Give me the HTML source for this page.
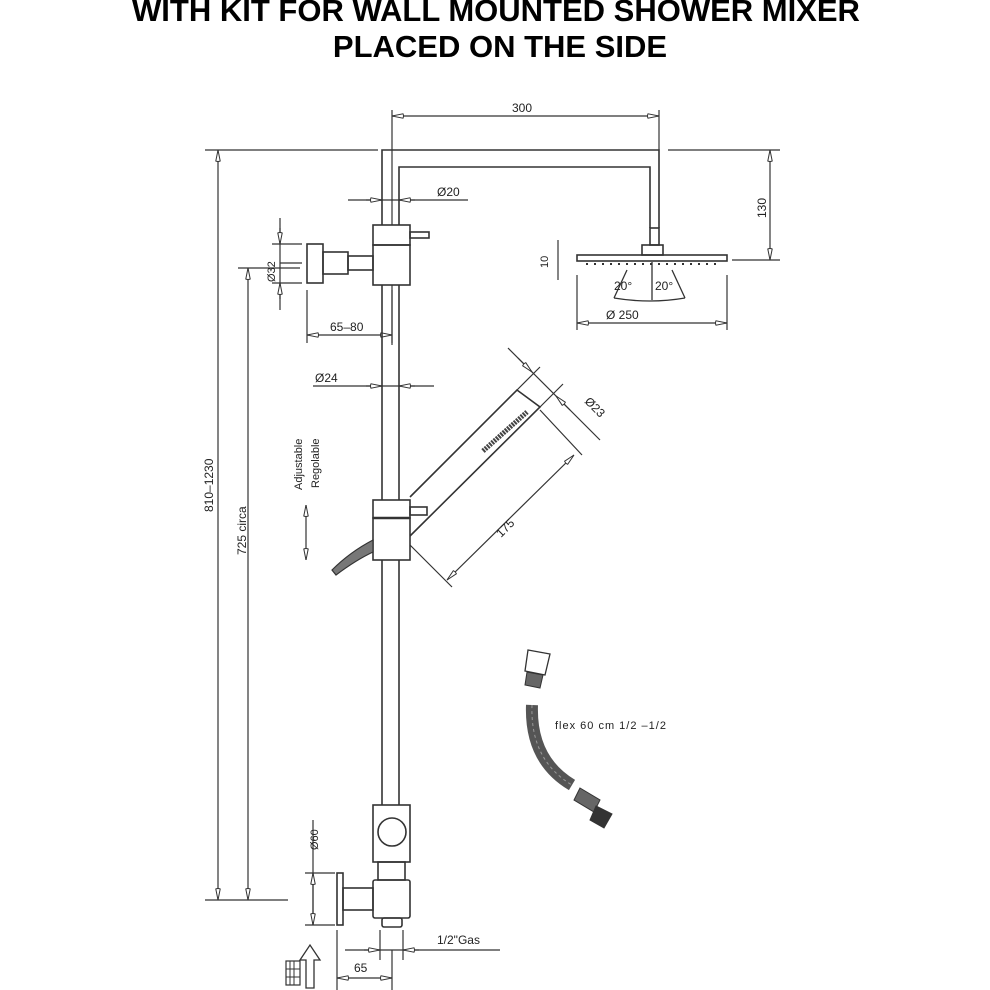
<!DOCTYPE html>
<html><head><meta charset="utf-8"><style>
html,body{margin:0;padding:0;background:#fff}
svg{display:block}
text{font-family:"Liberation Sans",sans-serif;fill:#222}
</style></head><body>
<svg width="990" height="990" viewBox="0 0 990 990" xmlns="http://www.w3.org/2000/svg">
<defs>
<marker id="a" viewBox="0 0 12 6" refX="12" refY="3" markerWidth="12" markerHeight="6" orient="auto-start-reverse" markerUnits="userSpaceOnUse">
<path d="M12,3 L1,0.8 Q0,3 1,5.2 Z" fill="#fff" stroke="#333" stroke-width="1"/>
</marker>
</defs>
<text x="496" y="21" font-size="31" font-weight="bold" text-anchor="middle" style="fill:#000">WITH KIT FOR WALL MOUNTED SHOWER MIXER</text>
<text x="500" y="57" font-size="31" font-weight="bold" text-anchor="middle" style="fill:#000">PLACED ON THE SIDE</text>

<g stroke="#333" stroke-width="1.6" fill="none">
<path d="M382,225 V150 H659 V228"/>
<path d="M399,225 V167 H650 V228"/>
<line x1="392" y1="110" x2="392" y2="225" stroke-width="1.2"/>
<rect x="650" y="228" width="9" height="17"/>
<rect x="642" y="245" width="21" height="10"/>
<rect x="577" y="255" width="150" height="6"/>
<path d="M586,264 H720" stroke-dasharray="2 6" stroke-width="2"/>
<path d="M627,270 L614,298 M672,270 L685,298 M652,262 V300 M614,298 Q650,304 685,298" stroke-width="1.3"/>
<line x1="392" y1="116" x2="659" y2="116" stroke-width="1.2" marker-start="url(#a)" marker-end="url(#a)"/>
<line x1="659" y1="110" x2="659" y2="150" stroke-width="1.2"/>
<line x1="668" y1="150" x2="780" y2="150" stroke-width="1.2"/>
<line x1="732" y1="260" x2="780" y2="260" stroke-width="1.2"/>
<line x1="770" y1="150" x2="770" y2="260" stroke-width="1.2" marker-start="url(#a)" marker-end="url(#a)"/>
<line x1="558" y1="240" x2="558" y2="280" stroke-width="1.2"/>
<line x1="577" y1="275" x2="577" y2="330" stroke-width="1.2"/>
<line x1="727" y1="275" x2="727" y2="330" stroke-width="1.2"/>
<line x1="577" y1="323" x2="727" y2="323" stroke-width="1.2" marker-start="url(#a)" marker-end="url(#a)"/>

<rect x="373" y="225" width="37" height="20"/>
<rect x="373" y="245" width="37" height="40"/>
<rect x="410" y="232" width="19" height="6"/>
<rect x="307" y="244" width="16" height="39"/>
<rect x="323" y="252" width="25" height="22"/>
<rect x="348" y="256" width="25" height="14"/>
<line x1="348" y1="200" x2="468" y2="200" stroke-width="1.2"/>
<line x1="366" y1="200" x2="382" y2="200" stroke-width="1.2" marker-end="url(#a)"/>
<line x1="415" y1="200" x2="399" y2="200" stroke-width="1.2" marker-end="url(#a)"/>
<line x1="272" y1="244" x2="302" y2="244" stroke-width="1.2"/>
<line x1="272" y1="283" x2="302" y2="283" stroke-width="1.2"/>
<line x1="280" y1="263" x2="302" y2="263" stroke-width="1.2"/>
<line x1="280" y1="218" x2="280" y2="310" stroke-width="1.2"/>
<line x1="280" y1="228" x2="280" y2="244" stroke-width="1.2" marker-end="url(#a)"/>
<line x1="280" y1="299" x2="280" y2="283" stroke-width="1.2" marker-end="url(#a)"/>
<line x1="307" y1="290" x2="307" y2="343" stroke-width="1.2"/>
<line x1="392" y1="290" x2="392" y2="343" stroke-width="1.2"/>
<line x1="307" y1="335" x2="392" y2="335" stroke-width="1.2" marker-start="url(#a)" marker-end="url(#a)"/>

<line x1="382" y1="285" x2="382" y2="500"/>
<line x1="399" y1="285" x2="399" y2="500"/>
<line x1="392" y1="285" x2="392" y2="345" stroke-width="1.2"/>
<line x1="382" y1="560" x2="382" y2="805"/>
<line x1="399" y1="560" x2="399" y2="805"/>
<line x1="313" y1="386" x2="434" y2="386" stroke-width="1.2"/>
<line x1="366" y1="386" x2="382" y2="386" stroke-width="1.2" marker-end="url(#a)"/>
<line x1="415" y1="386" x2="399" y2="386" stroke-width="1.2" marker-end="url(#a)"/>

<rect x="373" y="500" width="37" height="18"/>
<rect x="373" y="518" width="37" height="42"/>
<line x1="373" y1="518" x2="410" y2="518" stroke-width="2.5"/>
<rect x="410" y="507" width="17" height="8"/>
<path d="M410,497 L517,390 L540,407 L410,536"/>
<path d="M483,451 L527,412" stroke-width="5" stroke="#444" stroke-dasharray="2 1"/>
<path d="M410,545 L452,587 M540,410 L582,455" stroke-width="1.2"/>
<line x1="447" y1="580" x2="574" y2="455" stroke-width="1.2" marker-start="url(#a)" marker-end="url(#a)"/>
<path d="M517,390 L540,367 M540,407 L563,384" stroke-width="1.2"/>
<line x1="508" y1="348" x2="600" y2="440" stroke-width="1.2"/>
<line x1="518" y1="358" x2="532" y2="372" stroke-width="1.2" marker-end="url(#a)"/>
<line x1="570" y1="410" x2="556" y2="396" stroke-width="1.2" marker-end="url(#a)"/>
<path d="M373,540 Q350,552 332,570 L336,575 Q356,560 373,552 Z" fill="#777" stroke="#333" stroke-width="1.2"/>
<line x1="306" y1="505" x2="306" y2="560" stroke-width="1.2" marker-start="url(#a)" marker-end="url(#a)"/>

<line x1="205" y1="150" x2="378" y2="150" stroke-width="1.2"/>
<line x1="218" y1="150" x2="218" y2="900" stroke-width="1.2" marker-start="url(#a)" marker-end="url(#a)"/>
<line x1="238" y1="268" x2="300" y2="268" stroke-width="1.2"/>
<line x1="248" y1="268" x2="248" y2="900" stroke-width="1.2" marker-start="url(#a)" marker-end="url(#a)"/>
<line x1="205" y1="900" x2="288" y2="900" stroke-width="1.2"/>

<rect x="373" y="805" width="37" height="57"/>
<circle cx="392" cy="832" r="14"/>
<rect x="378" y="862" width="27" height="18"/>
<rect x="373" y="880" width="37" height="38" rx="2"/>
<rect x="382" y="918" width="20" height="9" rx="2"/>
<rect x="337" y="873" width="6" height="52"/>
<rect x="343" y="888" width="30" height="22"/>
<line x1="305" y1="873" x2="335" y2="873" stroke-width="1.2"/>
<line x1="305" y1="925" x2="335" y2="925" stroke-width="1.2"/>
<line x1="313" y1="820" x2="313" y2="925" stroke-width="1.2"/>
<line x1="313" y1="899" x2="313" y2="873" stroke-width="1.2" marker-end="url(#a)"/>
<line x1="313" y1="899" x2="313" y2="925" stroke-width="1.2" marker-end="url(#a)"/>
<line x1="380" y1="930" x2="380" y2="960" stroke-width="1.2"/>
<line x1="403" y1="930" x2="403" y2="960" stroke-width="1.2"/>
<line x1="345" y1="950" x2="500" y2="950" stroke-width="1.2"/>
<line x1="364" y1="950" x2="380" y2="950" stroke-width="1.2" marker-end="url(#a)"/>
<line x1="419" y1="950" x2="403" y2="950" stroke-width="1.2" marker-end="url(#a)"/>
<line x1="337" y1="930" x2="337" y2="990" stroke-width="1.2"/>
<line x1="392" y1="950" x2="392" y2="990" stroke-width="1.2"/>
<line x1="337" y1="978" x2="392" y2="978" stroke-width="1.2" marker-start="url(#a)" marker-end="url(#a)"/>
<path d="M306,988 V960 H300 L310,945 L320,960 H314 V988 Z" stroke-width="1.3"/>
<rect x="286" y="961" width="14" height="24" stroke-width="1.2"/>
<path d="M290,961 V985 M294,961 V985 M286,969 H300 M286,977 H300" stroke-width="1"/>

<path d="M528,650 L550,654 L545,675 L525,671 Z" stroke-width="1.3"/>
<path d="M527,672 L543,675 L540,688 L525,685 Z" fill="#666" stroke-width="1"/>
<path d="M532,705 Q530,760 572,785" stroke="#555" stroke-width="12"/>
<path d="M532,705 Q530,760 572,785" stroke="#999" stroke-width="1" stroke-dasharray="3 3"/>
<path d="M580,788 L600,800 L594,812 L574,800 Z" fill="#666" stroke-width="1"/>
<path d="M596,806 L612,814 L604,828 L590,820 Z" fill="#333" stroke-width="1"/>
</g>

<g font-size="12">
<text x="512" y="112">300</text>
<text x="437" y="196">Ø20</text>
<text x="330" y="331">65–80</text>
<text x="315" y="382">Ø24</text>
<text x="614" y="290">20°</text>
<text x="655" y="290">20°</text>
<text x="606" y="319">Ø 250</text>
<text transform="translate(766,218) rotate(-90)">130</text>
<text transform="translate(548,268) rotate(-90)" font-size="11">10</text>
<text transform="translate(275,282) rotate(-90)" font-size="11">Ø32</text>
<text transform="translate(501,538) rotate(-45)">175</text>
<text transform="translate(584,402) rotate(45)">Ø23</text>
<text transform="translate(302,490) rotate(-90)" font-size="11">Adjustable</text>
<text transform="translate(319,488) rotate(-90)" font-size="11">Regolable</text>
<text transform="translate(213,512) rotate(-90)">810–1230</text>
<text transform="translate(246,555) rotate(-90)">725  circa</text>
<text transform="translate(318,850) rotate(-90)" font-size="11">Ø60</text>
<text x="437" y="944">1/2"Gas</text>
<text x="354" y="972">65</text>
<text x="555" y="729" font-size="11" letter-spacing="1">flex  60  cm  1/2  –1/2</text>
</g>
</svg>
</body></html>
